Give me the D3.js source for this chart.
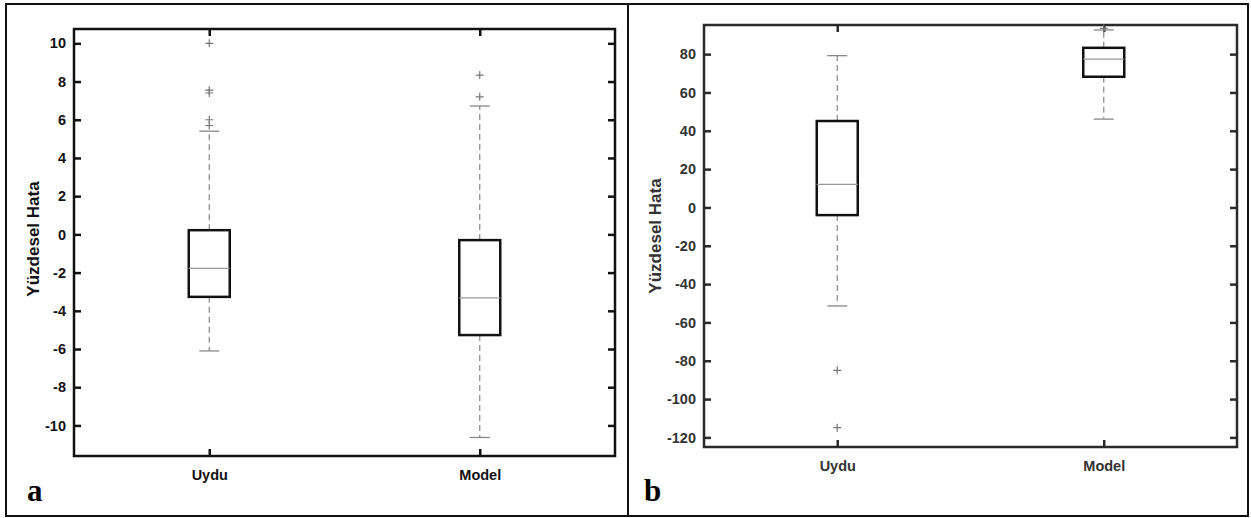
<!DOCTYPE html>
<html>
<head>
<meta charset="utf-8">
<script src="https://cdn.jsdelivr.net/npm/d3@7"></script>
<style>
  body { margin: 0; background: #fff; }
  svg { display: block; }
  text { font-family: "Liberation Sans", Arial, Helvetica, sans-serif; }
</style>
</head>
<body>
<svg id="chart" width="1251" height="518"></svg>
<script>
// kategoriler
const categories = ['Uydu', 'Model'];

// panel a - kutu grafiği istatistikleri (Uydu, Model)
const whiskerLowA = [-6.1, -10.63];
const q1A = [-3.27, -5.27];
const medianA = [-1.78, -3.32];
const q3A = [0.22, -0.3];
const whiskerHighA = [5.4, 6.72];
const outliersA = [[10.0, 7.55, 7.4, 6.0, 5.7], [8.34, 7.2]];
const ticksA = [-10, -8, -6, -4, -2, 0, 2, 4, 6, 8, 10];

// panel b
const whiskerLowB = [-51.4, 46.1];
const q1B = [-4.0, 68.2];
const medianB = [12.0, 77.4];
const q3B = [45.1, 83.3];
const whiskerHighB = [79.2, 92.6];
const outliersB = [[-85, -114.9], [93.4]];
const ticksB = [-120, -100, -80, -60, -40, -20, 0, 20, 40, 60, 80];

const svg = d3.select('#chart');

// dış çerçeve ve ayırıcı çizgi
svg.append('rect')
    .attr('x', 6).attr('y', 4)
    .attr('width', 1242).attr('height', 512)
    .attr('fill', 'none').attr('stroke', '#111').attr('stroke-width', 2);
svg.append('line')
    .attr('x1', 628).attr('x2', 628).attr('y1', 4).attr('y2', 516)
    .attr('stroke', '#111').attr('stroke-width', 2);

function drawPanel(opt) {
    const x = d3.scalePoint().domain(categories).range([opt.left, opt.right]).padding(0.5);
    const y = d3.scaleLinear().domain(opt.domain).range([opt.bottom, opt.top]);
    const g = svg.append('g');
    const boxW = 41, capW = 20, tickLen = 7;

    // sol eksen (tire işaretli etiketler)
    const yAxis = g.append('g')
        .attr('transform', `translate(${opt.left},0)`)
        .call(d3.axisLeft(y).tickValues(opt.ticks).tickSize(-tickLen).tickPadding(8)
            .tickFormat(d => String(d)));
    yAxis.select('.domain').remove();
    yAxis.selectAll('.tick line').attr('stroke', opt.axisColor).attr('stroke-width', 2.5);
    yAxis.selectAll('.tick text')
        .attr('font-size', '14.5px').attr('font-weight', 'bold')
        .attr('fill', opt.textColor)
        .style('font-family', '"Liberation Sans", Arial, sans-serif');

    // sağ eksen tikleri
    const yRight = g.append('g')
        .attr('transform', `translate(${opt.right},0)`)
        .call(d3.axisRight(y).tickValues(opt.ticks).tickSize(-tickLen).tickFormat(''));
    yRight.select('.domain').remove();
    yRight.selectAll('.tick line').attr('stroke', opt.axisColor).attr('stroke-width', 2.5);

    // alt eksen
    const xAxis = g.append('g')
        .attr('transform', `translate(0,${opt.bottom})`)
        .call(d3.axisBottom(x).tickSize(-tickLen).tickPadding(14));
    xAxis.select('.domain').remove();
    xAxis.selectAll('.tick line').attr('stroke', opt.axisColor).attr('stroke-width', 2.5);
    xAxis.selectAll('.tick text')
        .attr('font-size', '14.5px').attr('font-weight', 'bold')
        .attr('fill', opt.textColor)
        .style('font-family', '"Liberation Sans", Arial, sans-serif');

    // üst eksen tikleri
    const xTop = g.append('g')
        .attr('transform', `translate(0,${opt.top})`)
        .call(d3.axisTop(x).tickSize(-tickLen).tickFormat(''));
    xTop.select('.domain').remove();
    xTop.selectAll('.tick line').attr('stroke', opt.axisColor).attr('stroke-width', 2.5);

    // çizim alanı çerçevesi
    g.append('rect')
        .attr('x', opt.left).attr('y', opt.top)
        .attr('width', opt.right - opt.left).attr('height', opt.bottom - opt.top)
        .attr('fill', 'none').attr('stroke', opt.axisColor).attr('stroke-width', 2.5);

    categories.forEach((c, i) => {
        const cx = x(c);
        // bıyıklar (kesikli)
        g.append('line')
            .attr('x1', cx).attr('x2', cx)
            .attr('y1', y(opt.q3[i])).attr('y2', y(opt.hi[i]))
            .attr('stroke', '#888').attr('stroke-width', 1.2).attr('stroke-dasharray', '6,4');
        g.append('line')
            .attr('x1', cx).attr('x2', cx)
            .attr('y1', y(opt.q1[i])).attr('y2', y(opt.lo[i]))
            .attr('stroke', '#888').attr('stroke-width', 1.2).attr('stroke-dasharray', '6,4');
        // uç çizgileri
        [opt.hi[i], opt.lo[i]].forEach(v => {
            g.append('line')
                .attr('x1', cx - capW / 2).attr('x2', cx + capW / 2)
                .attr('y1', y(v)).attr('y2', y(v))
                .attr('stroke', '#888').attr('stroke-width', 1.3);
        });
        // kutu
        g.append('rect')
            .attr('x', cx - boxW / 2).attr('y', y(opt.q3[i]))
            .attr('width', boxW).attr('height', y(opt.q1[i]) - y(opt.q3[i]))
            .attr('fill', 'none').attr('stroke', '#111').attr('stroke-width', 2.5);
        // medyan
        g.append('line')
            .attr('x1', cx - boxW / 2).attr('x2', cx + boxW / 2)
            .attr('y1', y(opt.med[i])).attr('y2', y(opt.med[i]))
            .attr('stroke', '#999').attr('stroke-width', 1.2);
        // aykırı değerler
        opt.out[i].forEach(v => {
            g.append('path')
                .attr('d', `M${cx - 4},${y(v)}h8M${cx},${y(v) - 4}v8`)
                .attr('stroke', '#777').attr('stroke-width', 1.2);
        });
    });

    // y ekseni başlığı
    g.append('text')
        .attr('transform', `translate(${opt.labelX},${opt.labelY}) rotate(-90)`)
        .attr('text-anchor', 'middle')
        .attr('font-size', '17px').attr('font-weight', 'bold')
        .attr('fill', opt.textColor)
        .text('Yüzdesel Hata');

    // panel harfi
    g.append('text')
        .attr('x', opt.letterX).attr('y', 501)
        .attr('font-size', '31px').attr('font-weight', 'bold')
        .style('font-family', '"Liberation Serif", "Times New Roman", serif')
        .attr('fill', '#000')
        .text(opt.letter);
}

drawPanel({
    left: 74, right: 615, top: 29, bottom: 456,
    domain: [-11.6, 10.75], ticks: ticksA,
    lo: whiskerLowA, q1: q1A, med: medianA, q3: q3A, hi: whiskerHighA, out: outliersA,
    axisColor: '#111', textColor: '#111',
    labelX: 39, labelY: 239, letter: 'a', letterX: 27
});

drawPanel({
    left: 704, right: 1237, top: 25, bottom: 447,
    domain: [-125, 95.2], ticks: ticksB,
    lo: whiskerLowB, q1: q1B, med: medianB, q3: q3B, hi: whiskerHighB, out: outliersB,
    axisColor: '#2a2a2a', textColor: '#333',
    labelX: 661, labelY: 236, letter: 'b', letterX: 644
});
</script>
</body>
</html>
